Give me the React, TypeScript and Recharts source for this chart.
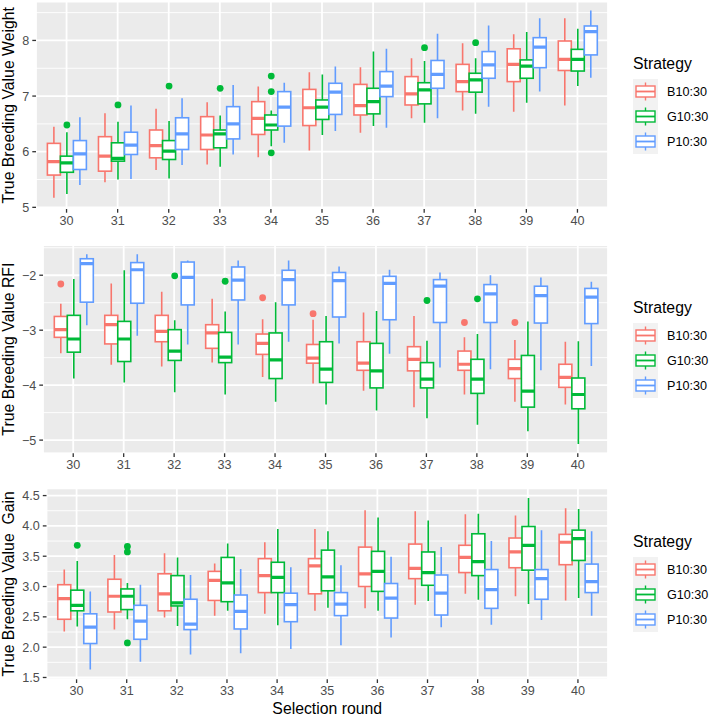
import { ComposedChart, Bar, XAxis, YAxis, CartesianGrid } from "recharts";

// Selection rounds on the x axis and the three strategies dodged in each round
const rounds = ["30", "31", "32", "33", "34", "35", "36", "37", "38", "39", "40"];
const strategies = ["B10:30", "G10:30", "P10:30"];
const COLORS = ["#F8766D", "#00BA38", "#619CFF"];

// box stats per round: [lower whisker, q1, median, q3, upper whisker]
type Stats = [number, number, number, number, number];
// outlying points: [round, strategy index, value]
type Outlier = [string, number, number];

const weightB: Stats[] = [
  [5.17, 5.58, 5.82, 6.15, 6.45], [5.45, 5.65, 5.92, 6.27, 6.69], [5.67, 5.89, 6.11, 6.39, 6.77],
  [5.77, 6.04, 6.30, 6.63, 6.89], [5.90, 6.31, 6.60, 6.90, 7.17], [6.02, 6.47, 6.79, 7.12, 7.43],
  [6.34, 6.66, 6.83, 7.21, 7.52], [6.60, 6.84, 7.04, 7.35, 7.68], [6.74, 7.08, 7.26, 7.57, 7.95],
  [6.72, 7.26, 7.57, 7.85, 8.11], [6.83, 7.46, 7.66, 7.99, 8.40],
];
const weightG: Stats[] = [
  [5.24, 5.63, 5.80, 5.92, 6.35], [5.50, 5.83, 5.88, 6.16, 6.54], [5.52, 5.86, 6.01, 6.20, 6.55],
  [5.73, 6.07, 6.32, 6.39, 6.65], [6.10, 6.39, 6.48, 6.66, 6.74], [6.30, 6.58, 6.80, 6.93, 7.39],
  [6.46, 6.68, 6.90, 7.14, 7.80], [6.52, 6.86, 7.11, 7.24, 7.63], [6.68, 7.07, 7.29, 7.41, 7.68],
  [6.88, 7.32, 7.54, 7.65, 8.15], [7.18, 7.45, 7.66, 7.84, 8.21],
];
const weightP: Stats[] = [
  [5.40, 5.68, 5.96, 6.20, 6.62], [5.51, 5.95, 6.12, 6.35, 6.83], [5.76, 6.04, 6.32, 6.61, 6.96],
  [5.95, 6.23, 6.50, 6.81, 7.20], [6.16, 6.46, 6.80, 7.08, 7.24], [6.37, 6.67, 7.07, 7.23, 7.53],
  [6.43, 6.99, 7.18, 7.44, 7.85], [6.60, 7.14, 7.39, 7.64, 8.12], [6.81, 7.32, 7.56, 7.80, 8.27],
  [7.08, 7.51, 7.88, 8.05, 8.40], [7.33, 7.74, 8.16, 8.26, 8.54],
];
const weightOutliers: Outlier[] = [
  ["30", 1, 6.48], ["31", 1, 6.84], ["32", 1, 7.18], ["33", 1, 7.14],
  ["34", 1, 7.36], ["34", 1, 7.08], ["34", 1, 5.98], ["37", 1, 7.87], ["38", 1, 7.96],
];

const rfiB: Stats[] = [
  [-3.42, -3.13, -2.99, -2.75, -2.52], [-3.63, -3.25, -2.90, -2.73, -2.15], [-3.66, -3.21, -3.02, -2.73, -2.30],
  [-3.59, -3.33, -3.05, -2.90, -2.43], [-3.85, -3.44, -3.24, -3.07, -2.80], [-3.97, -3.60, -3.51, -3.26, -2.81],
  [-4.10, -3.73, -3.60, -3.21, -2.68], [-4.40, -3.74, -3.53, -3.30, -2.74], [-4.17, -3.73, -3.62, -3.38, -3.13],
  [-4.30, -3.88, -3.70, -3.53, -3.18], [-4.35, -4.04, -3.86, -3.62, -3.21],
];
const rfiG: Stats[] = [
  [-3.88, -3.40, -3.16, -2.73, -2.07], [-3.95, -3.57, -3.16, -2.84, -1.91], [-4.13, -3.55, -3.38, -2.99, -2.82],
  [-4.17, -3.59, -3.49, -3.04, -2.66], [-4.30, -3.88, -3.54, -3.05, -2.49], [-4.35, -3.95, -3.71, -3.21, -2.74],
  [-4.46, -4.05, -3.74, -3.24, -2.65], [-4.60, -4.05, -3.89, -3.59, -3.19], [-4.72, -4.15, -3.89, -3.53, -3.07],
  [-4.84, -4.40, -4.11, -3.46, -2.84], [-5.07, -4.43, -4.17, -3.87, -3.20],
];
const rfiP: Stats[] = [
  [-2.91, -2.49, -1.79, -1.70, -1.62], [-3.10, -2.51, -1.90, -1.77, -1.62], [-3.26, -2.54, -2.04, -1.76, -1.73],
  [-3.26, -2.45, -2.09, -1.85, -1.73], [-3.21, -2.54, -2.08, -1.91, -1.73], [-3.24, -2.76, -2.10, -1.95, -1.84],
  [-3.43, -2.81, -2.15, -2.02, -1.90], [-3.68, -2.86, -2.20, -2.08, -1.95], [-3.71, -2.86, -2.34, -2.17, -2.00],
  [-3.73, -2.87, -2.37, -2.20, -2.04], [-3.65, -2.88, -2.40, -2.24, -2.12],
];
const rfiOutliers: Outlier[] = [
  ["30", 0, -2.16], ["32", 1, -2.01], ["33", 1, -2.11], ["34", 0, -2.41], ["35", 0, -2.70],
  ["37", 1, -2.46], ["38", 0, -2.86], ["38", 1, -2.43], ["39", 0, -2.86],
];

const gainB: Stats[] = [
  [2.26, 2.46, 2.80, 3.03, 3.28], [2.29, 2.58, 2.84, 3.12, 3.52], [2.49, 2.60, 2.88, 3.21, 3.55],
  [2.52, 2.77, 3.10, 3.25, 3.38], [2.55, 2.90, 3.18, 3.46, 3.73], [2.60, 2.88, 3.34, 3.46, 3.95],
  [2.64, 3.00, 3.21, 3.65, 4.26], [2.70, 3.13, 3.30, 3.70, 4.24], [2.88, 3.23, 3.48, 3.68, 4.19],
  [2.84, 3.31, 3.57, 3.80, 4.17], [2.77, 3.36, 3.73, 3.86, 4.29],
];
const gainG: Stats[] = [
  [2.34, 2.60, 2.69, 2.94, 3.42], [2.46, 2.62, 2.84, 2.96, 3.06], [2.35, 2.68, 2.73, 3.18, 3.48],
  [2.60, 2.75, 3.06, 3.48, 3.71], [2.36, 2.90, 3.15, 3.40, 3.95], [2.65, 2.93, 3.16, 3.60, 3.91],
  [2.60, 2.92, 3.25, 3.58, 4.14], [2.76, 3.02, 3.23, 3.57, 4.09], [2.78, 3.18, 3.41, 3.87, 4.20],
  [2.71, 3.27, 3.68, 3.99, 4.46], [2.81, 3.43, 3.79, 3.93, 4.28],
];
const gainP: Stats[] = [
  [1.63, 2.06, 2.33, 2.55, 2.92], [1.76, 2.13, 2.43, 2.69, 3.03], [1.88, 2.29, 2.38, 2.79, 3.19],
  [1.90, 2.30, 2.59, 2.86, 3.29], [1.97, 2.42, 2.70, 2.89, 3.32], [2.03, 2.52, 2.71, 2.90, 3.35],
  [2.16, 2.48, 2.81, 3.05, 3.49], [2.33, 2.53, 2.89, 3.19, 3.65], [2.37, 2.64, 2.95, 3.28, 3.75],
  [2.45, 2.79, 3.13, 3.28, 3.93], [2.52, 2.90, 3.08, 3.37, 3.91],
];
const gainOutliers: Outlier[] = [
  ["30", 1, 3.68], ["31", 1, 3.66], ["31", 1, 3.57], ["31", 1, 2.07],
];

const FONT = '"Liberation Sans", Arial, Helvetica, sans-serif';
const TICK_TEXT = { fill: "#4D4D4D", fontSize: 12.6 };

function buildRows(series: Stats[][], outliers: Outlier[]) {
  return rounds.map((round, i) => {
    const row: Record<string, any> = { round };
    series.forEach((s, k) => {
      row[`s${k}`] = s[i];
      row[`o${k}`] = outliers.filter((o) => o[0] === round && o[1] === k).map((o) => o[2]);
    });
    return row;
  });
}

// the bar spans lower..upper whisker; the rest of the box is placed inside that span
function makeBox(k: number, color: string) {
  return (props: any) => {
    const { x, y, width, height, payload } = props;
    const [lo, q1, med, q3, hi] = payload[`s${k}`] as Stats;
    const top = Math.min(y, y + height);
    const bottom = Math.max(y, y + height);
    const py = (v: number) => bottom - ((v - lo) / (hi - lo)) * (bottom - top);
    const cx = x + width / 2;
    return (
      <g>
        <line x1={cx} x2={cx} y1={py(hi)} y2={py(q3)} stroke={color} strokeWidth={1.6} />
        <line x1={cx} x2={cx} y1={py(q1)} y2={py(lo)} stroke={color} strokeWidth={1.6} />
        <rect x={x} y={py(q3)} width={width} height={py(q1) - py(q3)} fill="#FFFFFF" stroke={color} strokeWidth={1.6} />
        <line x1={x} x2={x + width} y1={py(med)} y2={py(med)} stroke={color} strokeWidth={3.2} />
        {(payload[`o${k}`] as number[]).map((v, j) => (
          <circle key={j} cx={cx} cy={py(v)} r={3.4} fill={color} />
        ))}
      </g>
    );
  };
}

const boxShapes = COLORS.map((c, k) => makeBox(k, c));

type PanelProps = {
  rows: Record<string, any>[];
  top: number;
  height: number;
  marginTop: number;
  yWidth: number;
  xHeight: number;
  domain: [number, number];
  ticks: number[];
  minor: number[];
  format: (v: number) => string;
  yTitle: string;
  xTitle?: string;
};

function BoxPanel(p: PanelProps) {
  return (
    <div style={{ position: "absolute", left: 0, top: p.top }}>
      <ComposedChart
        width={709}
        height={p.height}
        data={p.rows}
        margin={{ top: p.marginTop, right: 101, bottom: 0, left: 0 }}
        barCategoryGap="12.5%"
        barGap={0}
      >
        <CartesianGrid yAxisId="minor" vertical={false} fill="#EBEBEB" stroke="#FFFFFF" strokeWidth={0.9} />
        <CartesianGrid stroke="#FFFFFF" strokeWidth={1.8} />
        <XAxis
          dataKey="round"
          interval={0}
          padding={{ left: 5, right: 5 }}
          height={p.xHeight}
          axisLine={false}
          tickSize={3.7}
          tickMargin={3.5}
          tickLine={{ stroke: "#333333", strokeWidth: 1.3 }}
          tick={TICK_TEXT}
          label={
            p.xTitle
              ? { value: p.xTitle, position: "insideBottom", offset: 4.5, fill: "#000000", fontSize: 15.8 }
              : undefined
          }
        />
        <YAxis
          type="number"
          domain={p.domain}
          ticks={p.ticks}
          interval={0}
          allowDataOverflow
          width={p.yWidth}
          axisLine={false}
          tickSize={3.7}
          tickMargin={3}
          tickLine={{ stroke: "#333333", strokeWidth: 1.3 }}
          tick={TICK_TEXT}
          tickFormatter={p.format}
          label={{
            value: p.yTitle,
            angle: -90,
            position: "insideLeft",
            offset: 8.5,
            fill: "#000000",
            fontSize: 15.8,
            style: { textAnchor: "middle" },
          }}
        />
        <YAxis yAxisId="minor" type="number" hide domain={p.domain} ticks={p.minor} interval={0} allowDataOverflow />
        {strategies.map((s, k) => (
          <Bar
            key={s}
            name={s}
            dataKey={(row: any) => [row[`s${k}`][0], row[`s${k}`][4]]}
            fill={COLORS[k]}
            shape={boxShapes[k]}
            isAnimationActive={false}
          />
        ))}
      </ComposedChart>
    </div>
  );
}

// ggplot-style legend with a small boxplot glyph per strategy
function StrategyLegend({ keysTop }: { keysTop: number }) {
  return (
    <svg
      width={89}
      height={110}
      style={{ position: "absolute", left: 620, top: keysTop - 30, overflow: "visible" }}
    >
      <text x={13} y={20.3} fontSize={15.8} fill="#000000">Strategy</text>
      {strategies.map((s, i) => {
        const cy = 30 + 12.5 + 25 * i;
        const c = COLORS[i];
        return (
          <g key={s}>
            <rect x={13} y={30 + 25 * i} width={25} height={25} fill="#F2F2F2" />
            <line x1={25.5} x2={25.5} y1={cy - 9} y2={cy - 5.5} stroke={c} strokeWidth={1.4} />
            <line x1={25.5} x2={25.5} y1={cy + 5.5} y2={cy + 9} stroke={c} strokeWidth={1.4} />
            <rect x={16} y={cy - 5.5} width={19} height={11} fill="#FFFFFF" stroke={c} strokeWidth={1.4} />
            <line x1={16} x2={35} y1={cy} y2={cy} stroke={c} strokeWidth={1.8} />
            <text x={47} y={cy + 4.5} fontSize={12.6} fill="#000000">{s}</text>
          </g>
        );
      })}
    </svg>
  );
}

const minusFormat = (v: number) => String(v).replace("-", "\u2212");
const oneDecimal = (v: number) => v.toFixed(1);

export default function App() {
  return (
    <div style={{ position: "absolute", left: 0, top: 0, width: 709, height: 718, background: "#FFFFFF", fontFamily: FONT }}>
      <BoxPanel
        rows={buildRows([weightB, weightG, weightP], weightOutliers)}
        top={0}
        height={240}
        marginTop={1.5}
        yWidth={36}
        xHeight={31}
        domain={[4.97, 8.7]}
        ticks={[5, 6, 7, 8]}
        minor={[5.5, 6.5, 7.5, 8.5]}
        format={(v) => String(v)}
        yTitle="True Breeding Value Weight"
      />
      <BoxPanel
        rows={buildRows([rfiB, rfiG, rfiP], rfiOutliers)}
        top={235}
        height={240}
        marginTop={10}
        yWidth={43}
        xHeight={21.7}
        domain={[-5.24, -1.45]}
        ticks={[-5, -4, -3, -2]}
        minor={[-4.5, -3.5, -2.5, -1.5]}
        format={minusFormat}
        yTitle="True Breeding Value RFI"
      />
      <BoxPanel
        rows={buildRows([gainB, gainG, gainP], gainOutliers)}
        top={470}
        height={248}
        marginTop={18.3}
        yWidth={46.5}
        xHeight={38.7}
        domain={[1.47, 4.62]}
        ticks={[1.5, 2, 2.5, 3, 3.5, 4, 4.5]}
        minor={[1.75, 2.25, 2.75, 3.25, 3.75, 4.25]}
        format={oneDecimal}
        yTitle={"True Breeding Value\u00A0 Gain"}
        xTitle="Selection round"
      />
      <StrategyLegend keysTop={79} />
      <StrategyLegend keysTop={323} />
      <StrategyLegend keysTop={557} />
    </div>
  );
}
